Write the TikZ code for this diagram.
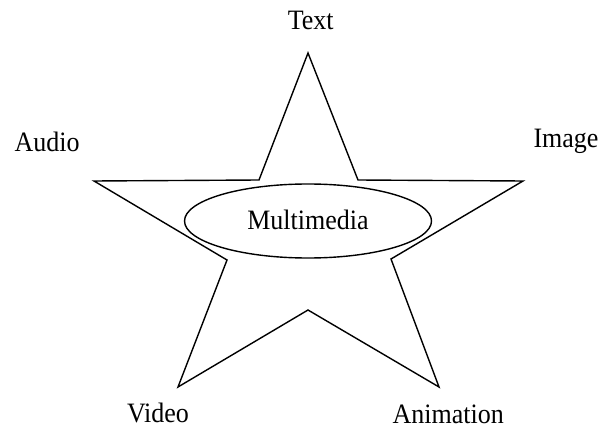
\documentclass[tikz,border=0pt]{standalone}
\usepackage{fontspec}
\usepackage{graphicx}
\setmainfont{Liberation Serif}
\usetikzlibrary{shapes.geometric}
\newcommand{\tallbox}[1]{\scalebox{1}[1.08]{#1}}
\begin{document}
\begin{tikzpicture}[x=1pt,y=-1pt,
  lbl/.style={font=\fontsize{26}{30}\selectfont, inner sep=0pt, anchor=base},
  edge/.style={line width=1.4pt, line join=miter, black}]
\useasboundingbox[fill=white] (0,0) rectangle (604,430);
% star vertices
\coordinate (t) at (308,53);
\coordinate (iul) at (259,180);
\coordinate (l) at (94,181);
\coordinate (ill) at (227,260);
\coordinate (bl) at (178,387);
\coordinate (ib) at (308,310);
\coordinate (br) at (439,387);
\coordinate (ilr) at (391,259);
\coordinate (r) at (523,181);
\coordinate (iur) at (358,180);
\draw[edge] (t) -- (iur) -- (r) -- (ilr) -- (br) -- (ib) -- (bl) -- (ill) -- (l) -- (iul) -- cycle;
\node[draw, ellipse, line width=1.4pt, minimum width=247pt, minimum height=74pt, inner sep=0pt] (mm) at (308,221) {};
\node[lbl] (mmt) at (308,229.5) {\tallbox{Multimedia}};
\node[lbl] (text) at (310.7,29.5) {\tallbox{Text}};
\node[lbl] (audio) at (47.2,151.7) {\tallbox{Audio}};
\node[lbl] (image) at (566,148) {\tallbox{Image}};
\node[lbl] (video) at (158,422.5) {\tallbox{Video}};
\node[lbl] (anim) at (448.3,423.5) {\tallbox{Animation}};
\end{tikzpicture}
\end{document}
